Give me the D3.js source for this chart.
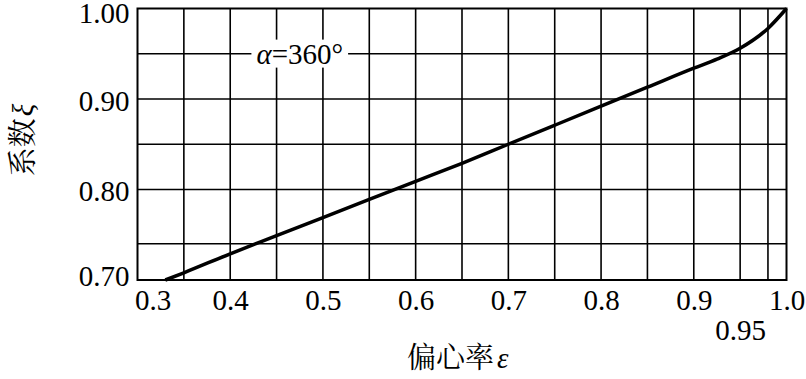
<!DOCTYPE html>
<html>
<head>
<meta charset="utf-8">
<script src="https://cdn.jsdelivr.net/npm/d3@7"></script>
<style>
  body { margin: 0; background: #fff; }
  svg { display: block; }
</style>
</head>
<body>
<svg id="chart"></svg>
<script>
// eccentricity (x) vs coefficient xi (y), alpha = 360 deg
const eps = [0.33, 0.35, 0.40, 0.45, 0.50, 0.55, 0.60, 0.65, 0.70, 0.75, 0.80, 0.85, 0.90, 0.925, 0.95, 0.98, 1.00]
const xi  = [0.700, 0.708, 0.729, 0.749, 0.769, 0.789, 0.809, 0.829, 0.850, 0.871, 0.892, 0.913, 0.934, 0.944, 0.956, 0.978, 1.000]

const xTicks = [0.3, 0.4, 0.5, 0.6, 0.7, 0.8, 0.9, 1.0]
const xExtraTick = [0.95]
const yTicks = [0.70, 0.80, 0.90, 1.00]
const xGrid = [0.35, 0.40, 0.45, 0.50, 0.55, 0.60, 0.65, 0.70, 0.75, 0.80, 0.85, 0.90, 0.95, 0.98]
const yGrid = [0.74, 0.80, 0.85, 0.90, 0.95]

const SERIF = '"Liberation Serif", "Times New Roman", serif'
const CJK = '"Noto Serif CJK SC", "Noto Sans CJK SC", serif'

const W = 806, H = 379
const margin = {top: 8.5, right: 19.5, bottom: 99, left: 137.5}
const innerW = W - margin.left - margin.right
const innerH = H - margin.top - margin.bottom

const svg = d3.select('#chart').attr('width', W).attr('height', H)

const x = d3.scaleLinear().domain([0.3, 1.0]).range([0, innerW])
const y = d3.scaleLinear().domain([0.7, 1.0]).range([innerH, 0])

const chart = svg.append('g').attr('transform', `translate(${margin.left},${margin.top})`)

// grid
chart.append('g').selectAll('line')
  .data(xGrid).enter().append('line')
  .attr('x1', d => x(d)).attr('x2', d => x(d))
  .attr('y1', 0).attr('y2', innerH)
  .attr('stroke', '#000').attr('stroke-width', 1.6)

chart.append('g').selectAll('line')
  .data(yGrid).enter().append('line')
  .attr('x1', 0).attr('x2', innerW)
  .attr('y1', d => y(d)).attr('y2', d => y(d))
  .attr('stroke', '#000').attr('stroke-width', 1.6)

// curve label with white backing
const label = chart.append('g')
const lt = label.append('text')
  .attr('x', x(0.475)).attr('y', y(0.95))
  .attr('dy', '0.34em')
  .attr('text-anchor', 'middle')
  .attr('font-family', SERIF)
  .attr('font-size', 29)
lt.append('tspan').attr('font-style', 'italic').text('α')
lt.append('tspan').text('=360°')
const bb = lt.node().getBBox()
label.insert('rect', 'text')
  .attr('x', bb.x - 5).attr('y', bb.y + 2)
  .attr('width', bb.width + 10).attr('height', bb.height - 4)
  .attr('fill', '#fff')

// frame
chart.append('rect')
  .attr('width', innerW).attr('height', innerH)
  .attr('fill', 'none').attr('stroke', '#000').attr('stroke-width', 2)

// curve
const pts = eps.map((e, i) => [e, xi[i]])
chart.append('path')
  .datum(pts)
  .attr('fill', 'none')
  .attr('stroke', '#000')
  .attr('stroke-width', 3.5)
  .attr('d', d3.line().x(d => x(d[0])).y(d => y(d[1])).curve(d3.curveMonotoneX))

// axes
function styleAxis(g) {
  g.attr('font-family', SERIF).attr('font-size', 29)
  g.select('.domain').remove()
  g.selectAll('.tick text').attr('fill', '#000')
}

const xAxis = chart.append('g')
  .attr('transform', `translate(0,${innerH})`)
  .call(d3.axisBottom(x).tickValues(xTicks).tickFormat(d3.format('.1f')).tickSize(0).tickPadding(9))
  .call(styleAxis)
xAxis.selectAll('.tick text').filter(d => d === 0.3)
  .attr('text-anchor', 'start').attr('dx', -3)

chart.append('g')
  .attr('transform', `translate(0,${innerH + 30})`)
  .call(d3.axisBottom(x).tickValues(xExtraTick).tickFormat(d3.format('.2f')).tickSize(0).tickPadding(9))
  .call(styleAxis)

const yAxis = chart.append('g')
  .call(d3.axisLeft(y).tickValues(yTicks).tickFormat(d3.format('.2f')).tickSize(0).tickPadding(8))
  .call(styleAxis)
yAxis.selectAll('.tick text').attr('dy', '0.38em')
yAxis.selectAll('.tick text').filter(d => d === 0.7).attr('dy', '0.18em')
yAxis.selectAll('.tick text').filter(d => d === 1.0).attr('dy', '0.48em')

// axis titles
const xt = svg.append('text')
  .attr('x', 407).attr('y', 368)
  .attr('font-size', 29)
xt.append('tspan').attr('font-family', CJK).text('偏心率')
xt.append('tspan').attr('dx', 3).attr('font-family', SERIF).attr('font-style', 'italic').text('ε')

const yt = svg.append('text')
  .attr('transform', 'translate(33,140) rotate(-90)')
  .attr('text-anchor', 'middle')
  .attr('font-size', 29)
yt.append('tspan').attr('font-family', CJK).text('系数')
yt.append('tspan').attr('dx', 2).attr('font-family', SERIF).attr('font-style', 'italic').text('ξ')
</script>
</body>
</html>
